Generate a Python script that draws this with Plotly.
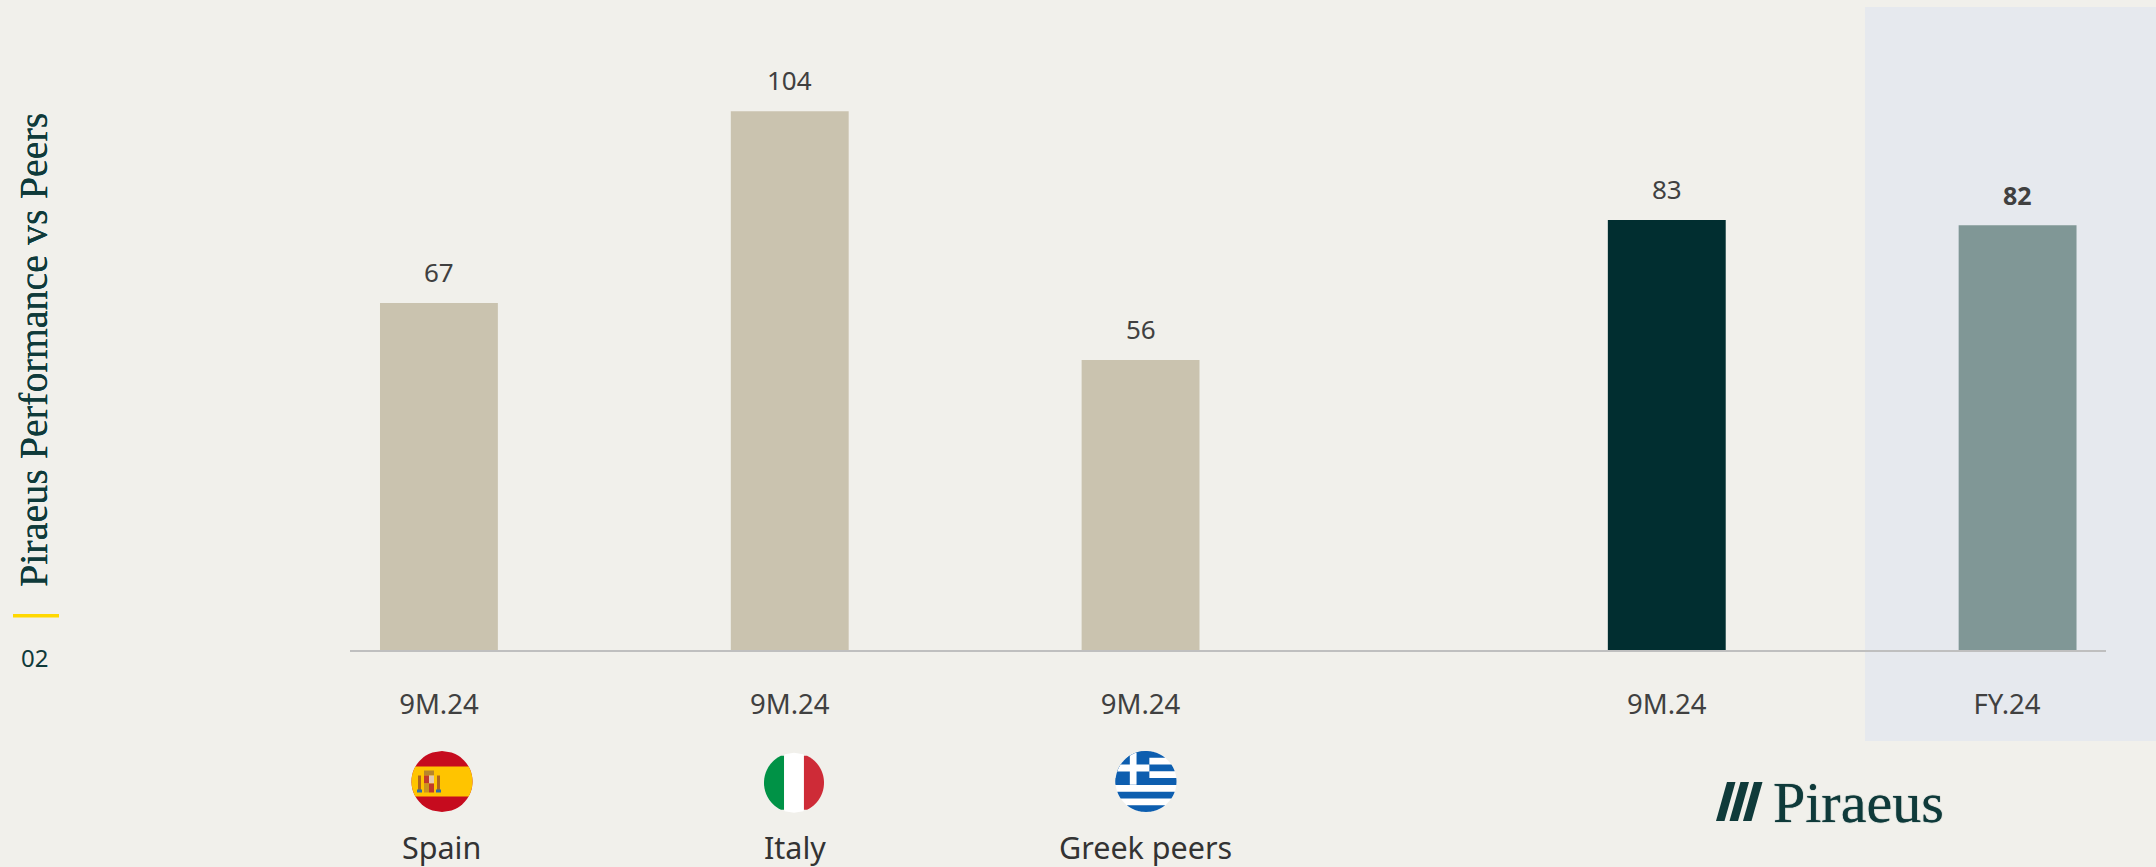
import math
import plotly.graph_objects as go

# ---------- data ----------
regions = ["Spain", "Italy", "Greek peers", "Piraeus", "Piraeus"]
periods = ["9M.24", "9M.24", "9M.24", "9M.24", "FY.24"]
values = [67, 104, 56, 83, 82]
slots = [0, 1, 2, 3.5, 4.5]
tick_slots = [0, 1, 2, 3.5, 4.47]
bar_colors = ["#CAC3AF", "#CAC3AF", "#CAC3AF", "#012E30", "#809796"]
label_weights = [400, 400, 400, 400, 700]
flag_labels = ["Spain", "Italy", "Greek peers"]
section_title = "Piraeus Performance vs Peers"
section_number = "02"
logo_text = "Piraeus"

# ---------- page ----------
W, H = 2156, 867
BG = "#F1F0EB"
PANEL = "#E6E9EE"
INK = "#404040"
TEAL = "#0F3A3A"
AXIS_L, AXIS_R, AXIS_Y = 350, 2106, 650


def px(x):
    return x / W


def py(y):
    return 1 - y / H


def poly(points, color):
    d = "M " + " L ".join(f"{px(x):.5f} {py(y):.5f}" for x, y in points) + " Z"
    return dict(type="path", xref="paper", yref="paper", path=d,
                fillcolor=color, line=dict(width=0), layer="above")


def rect(x0, y0, x1, y1, color, layer="above"):
    return dict(type="rect", xref="paper", yref="paper", x0=px(x0), x1=px(x1),
                y0=py(y0), y1=py(y1), fillcolor=color, line=dict(width=0), layer=layer)


def clipped(cx, cy, r, x0, x1, y0, y1, color):
    """Rectangle given relative to the disc (units of r), clipped to the disc."""
    n = 40
    ys = [y0 + (y1 - y0) * i / n for i in range(n + 1)]
    left, right = [], []
    for v in ys:
        s = math.sqrt(max(0, 1 - v * v))
        a, b = max(x0, -s), min(x1, s)
        if a <= b:
            left.append((cx + a * r, cy + v * r))
            right.append((cx + b * r, cy + v * r))
    return poly(left + right[::-1], color)


shapes = [
    rect(1865, 7, W, 741, PANEL, "below"),
    rect(13, 614, 59, 617.5, "#FFD800"),
]

# Spain
cx, cy, r = 442, 781.5, 30.5
shapes += [
    clipped(cx, cy, r, -1, 1, -1, 1, "#C60B1E"),
    clipped(cx, cy, r, -1, 1, -0.49, 0.49, "#FFC400"),
    rect(cx - 24, cy - 6, cx - 21, cy + 9, "#B0651D"),
    rect(cx - 25, cy + 8, cx - 20, cy + 11, "#2F6FA8"),
    rect(cx - 5, cy - 6, cx - 2, cy + 9, "#B0651D"),
    rect(cx - 6, cy + 8, cx - 1, cy + 11, "#2F6FA8"),
    rect(cx - 18, cy - 11, cx - 8, cy - 6, "#B8862A"),
    rect(cx - 18, cy - 6, cx - 13, cy + 2, "#C0392B"),
    rect(cx - 13, cy - 6, cx - 8, cy + 2, "#E3C9B0"),
    rect(cx - 18, cy + 2, cx - 13, cy + 11, "#C9951E"),
    rect(cx - 13, cy + 2, cx - 8, cy + 11, "#C0392B"),
]

# Italy
cx, cy, r = 794, 782.7, 30
shapes += [
    clipped(cx, cy, r, -1, -0.33, -1, 1, "#009246"),
    clipped(cx, cy, r, -0.33, 0.33, -1, 1, "#FFFFFF"),
    clipped(cx, cy, r, 0.33, 1, -1, 1, "#CE2B37"),
]

# Greece
cx, cy, r = 1146, 781.5, 30.5
BLUE = "#0D5EAF"
shapes.append(clipped(cx, cy, r, -1, 1, -1, 1, "#FFFFFF"))
for k in range(0, 9, 2):
    shapes.append(clipped(cx, cy, r, -1, 1, -1 + k * 2 / 9, -1 + (k + 1) * 2 / 9, BLUE))
shapes += [
    clipped(cx, cy, r, -1, 0.11, -1, 0.11, BLUE),
    clipped(cx, cy, r, -0.53, -0.31, -1, 0.11, "#FFFFFF"),
    clipped(cx, cy, r, -1, 0.11, -0.56, -0.33, "#FFFFFF"),
]

# logo slashes
for dx in (0, 13.5, 27):
    shapes.append(poly([(1716 + dx, 821), (1727 + dx, 782), (1735.5 + dx, 782), (1724.5 + dx, 821)], TEAL))

# ---------- chart ----------
fig = go.Figure(go.Bar(
    x=slots, y=values, width=0.336, marker=dict(color=bar_colors, line=dict(width=0)),
    hoverinfo="skip",
))

annotations = []
for s, v, w in zip(slots, values, label_weights):
    annotations.append(dict(x=s, y=v, xref="x", yref="y", text=f"{v}", showarrow=False,
                            yanchor="bottom", yshift=11,
                            font=dict(family="Noto Sans", size=26 if w == 400 else 25, color=INK, weight=w)))


def paper_text(x, y, text, size, color, family="Noto Sans", angle=0, shadow=None):
    font = dict(family=family, size=size, color=color)
    if shadow:
        font["shadow"] = shadow
    return dict(x=px(x), y=py(y), xref="paper", yref="paper", text=text, showarrow=False,
                xanchor="center", yanchor="middle", textangle=angle, font=font)


for x, label in zip((441, 795, 1145), flag_labels):
    annotations.append(paper_text(x, 847, label, 30.5, "#333333"))
annotations += [
    paper_text(33, 350, section_title, 40, TEAL, "Liberation Serif", -90, f"0 0 0.6px {TEAL}"),
    paper_text(34.5, 657, section_number, 24, TEAL),
    paper_text(1858, 802, logo_text, 58, TEAL, "Liberation Serif", 0, f"0 0 1px {TEAL}"),
]

fig.update_layout(
    width=W, height=H, margin=dict(l=0, r=0, t=0, b=0),
    paper_bgcolor=BG, plot_bgcolor="rgba(0,0,0,0)", showlegend=False,
    shapes=shapes, annotations=annotations,
    xaxis=dict(domain=[px(AXIS_L), px(AXIS_R)], range=[-0.2535, 4.7520],
               tickmode="array", tickvals=tick_slots, ticktext=periods,
               showgrid=False, zeroline=False, showline=True, linecolor="#BFBFBF", linewidth=2,
               ticks="", ticklabelstandoff=29,
               tickfont=dict(family="Noto Sans", size=27.5, color=INK)),
    yaxis=dict(domain=[py(AXIS_Y), 1], range=[0, 125.5], visible=False),
)

fig.write_html("out.html", config=dict(displayModeBar=False),
               post_script="document.body.style.margin='0';document.body.style.overflow='hidden';")
